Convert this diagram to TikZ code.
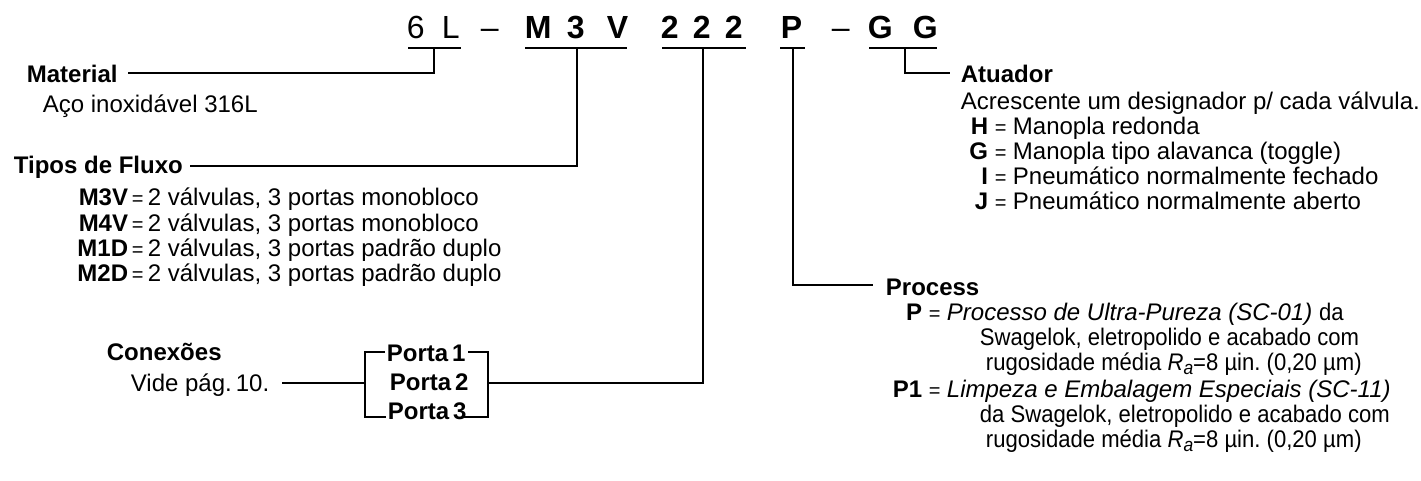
\documentclass[tikz,border=0pt]{standalone}
\usepackage{fontspec}
\setmainfont{Liberation Sans}
\newfontfamily\narrowfont[FakeStretch=0.92]{Liberation Sans}
\newcommand{\Ra}{\textit{R}\raisebox{-4pt}{\fontsize{19}{19}\selectfont\itshape a}}
\frenchspacing
\begin{document}
\begin{tikzpicture}[x=1pt,y=-1pt,line width=1.8pt,
  txt/.style={inner sep=0pt,anchor=base west,font=\fontsize{24}{24}\selectfont},
  ntxt/.style={inner sep=0pt,anchor=base west,font=\fontsize{24}{24}\narrowfont},
  eqs/.style={inner sep=0pt,anchor=base west,font=\fontsize{20}{20}\selectfont},
  hd/.style={inner sep=0pt,anchor=base west,font=\fontsize{24}{24}\selectfont\bfseries},
  code/.style={inner sep=0pt,anchor=base east,font=\fontsize{24}{24}\selectfont\bfseries},
  ttl/.style={inner sep=0pt,anchor=base west,font=\fontsize{32}{32}\selectfont},
  ttlb/.style={inner sep=0pt,anchor=base west,font=\fontsize{32}{32}\selectfont\bfseries}]
\useasboundingbox (0,0) rectangle (1421,481);
% ---------- title ----------
\node[ttl]  (c6)  at (406,39) {6};
\node[ttl]  (cL)  at (441,39) {L};
\node[ttl]  (d1)  at (480,39) {–};
\node[ttlb] (cM)  at (524,39) {M};
\node[ttlb] (c3)  at (566,39) {3};
\node[ttlb] (cV)  at (606,39) {V};
\node[ttlb] (c21) at (660,39) {2};
\node[ttlb] (c22) at (692,39) {2};
\node[ttlb] (c23) at (724,39) {2};
\node[ttlb] (cP)  at (780,39) {P};
\node[ttl]  (d2)  at (831,39) {–};
\node[ttlb] (cG1) at (867,39) {G};
\node[ttlb] (cG2) at (912,39) {G};
% underline coordinates
\coordinate (a1) at (408,48); \coordinate (b1) at (461,48);
\coordinate (a2) at (525,48); \coordinate (b2) at (627,48);
\coordinate (a3) at (662,48); \coordinate (b3) at (746,48);
\coordinate (a4) at (780,48); \coordinate (b4) at (805,48);
\coordinate (a5) at (869,48); \coordinate (b5) at (937,48);
\draw (a1) -- (b1); \draw (a2) -- (b2); \draw (a3) -- (b3);
\draw (a4) -- (b4); \draw (a5) -- (b5);
\coordinate (k1) at (434,48); \coordinate (k2) at (577,48);
\coordinate (k3) at (703,48); \coordinate (k4) at (793,48);
\coordinate (k5) at (905,48);
% ---------- Material ----------
\node[hd]  (mat) at (26,83) {Material};
\node[txt] (aco) at (42,113) {Aço inoxidável 316L};
\coordinate (mE) at (128,73);
\draw (k1) |- (mE);
% ---------- Tipos de Fluxo ----------
\node[hd] (tip) at (13,174) {Tipos de Fluxo};
\coordinate (tE) at (190,166);
\draw (k2) |- (tE);
\node[code] (m1) at (129,206) {M3V};
\node[eqs]  (e1) at (131,206) {=};
\node[txt]  (l1) at (147,206) {2 válvulas, 3 portas monobloco};
\node[code] (m2) at (129,231) {M4V};
\node[eqs]  (e2) at (131,231) {=};
\node[txt]  (l2) at (147,231) {2 válvulas, 3 portas monobloco};
\node[code] (m3) at (129,256) {M1D};
\node[eqs]  (e3) at (131,256) {=};
\node[txt]  (l3) at (147,256) {2 válvulas, 3 portas padrão duplo};
\node[code] (m4) at (129,281) {M2D};
\node[eqs]  (e4) at (131,281) {=};
\node[txt]  (l4) at (147,281) {2 válvulas, 3 portas padrão duplo};
% ---------- Conexoes ----------
\node[hd]  (con) at (106,360) {Conexões};
\node[txt] (vid) at (130,391) {Vide pág.\,10.};
\node[hd] (p1) at (386,361) {Porta\,1};
\node[hd] (p2) at (389,390) {Porta\,2};
\node[hd] (p3) at (387,419) {Porta\,3};
\coordinate (vE) at (282,383);
\coordinate (bl) at (365,383);
\coordinate (br) at (488,383);
\coordinate (blt) at (365,352); \coordinate (blb) at (365,417);
\coordinate (brt) at (488,352); \coordinate (brb) at (488,417);
\draw (vE) -- (bl);
\draw (385,352) -- (blt) -- (blb) -- (386,417);
\draw (468,352) -- (brt) -- (brb) -- (463,417);
\draw (br) -| (k3);
% ---------- Atuador ----------
\node[hd]  (atu) at (960,83) {Atuador};
\coordinate (aE) at (950,73);
\draw (k5) |- (aE);
\node[txt] (acr) at (960,110) {Acrescente um designador p/ cada válvula.};
\node[code] (h) at (989,135) {H};
\node[eqs] (eh) at (994,135) {=};
\node[txt] (th) at (1012,135) {Manopla redonda};
\node[code] (g) at (989,160) {G};
\node[eqs] (eg) at (994,160) {=};
\node[txt] (tg) at (1012,160) {Manopla tipo alavanca (toggle)};
\node[code] (i) at (989,185) {I};
\node[eqs] (ei) at (994,185) {=};
\node[txt] (ti) at (1012,185) {Pneumático normalmente fechado};
\node[code] (j) at (989,210) {J};
\node[eqs] (ej) at (994,210) {=};
\node[txt] (tj) at (1012,210) {Pneumático normalmente aberto};
% ---------- Process ----------
\node[hd] (pro) at (885,295) {Process};
\coordinate (pE) at (873,285);
\draw (k4) |- (pE);
\node[code] (pp) at (923,320) {P};
\node[eqs] (ep) at (928,320) {=};
\node[txt] (tp1) at (946,320) {\textit{Processo de Ultra-Pureza (SC-01)} {\narrowfont da}};
\node[ntxt] (tp2) at (979,345) {Swagelok, eletropolido e acabado com};
\node[ntxt] (tp3) at (985,370) {rugosidade média \Ra=8 µin. (0,20 µm)};
\node[code] (pq) at (923,397) {P1};
\node[eqs] (eq) at (928,397) {=};
\node[txt] (tq1) at (946,397) {\textit{Limpeza e Embalagem Especiais (SC-11)}};
\node[ntxt] (tq2) at (979,422) {da Swagelok, eletropolido e acabado com};
\node[ntxt] (tq3) at (985,447) {rugosidade média \Ra=8 µin. (0,20 µm)};
\end{tikzpicture}
\end{document}
